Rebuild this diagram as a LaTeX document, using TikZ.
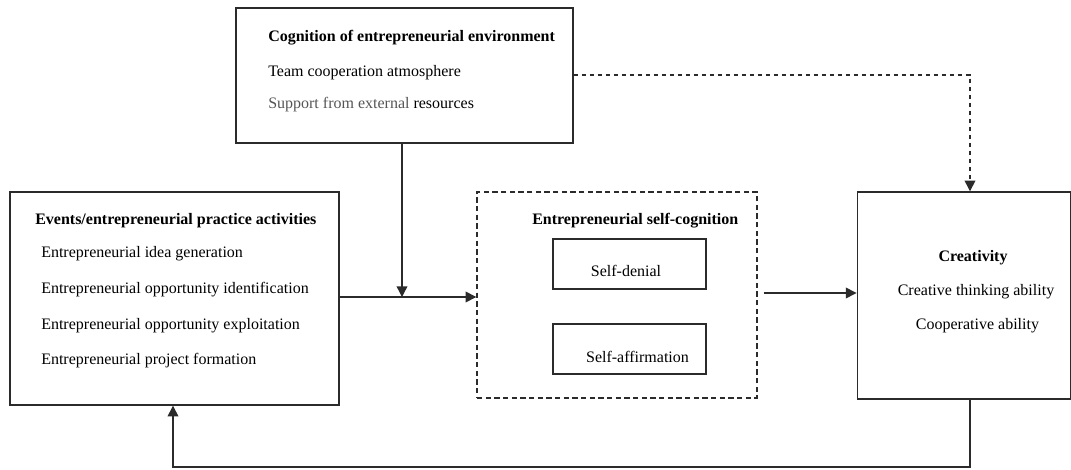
\documentclass[tikz,border=0pt]{standalone}
\usepackage{fontspec}
\setmainfont{Liberation Serif}
\usetikzlibrary{arrows.meta}
\definecolor{ink}{HTML}{2B2B2B}
\definecolor{softgray}{HTML}{555555}
\begin{document}
\begin{tikzpicture}[x=0.75pt,y=-0.75pt,
  box/.style={draw=ink,line width=1.05pt,rectangle,inner sep=0pt},
  dbox/.style={box,dash pattern=on 4pt off 2.5pt},
  lbl/.style={inner sep=0pt,font=\fontsize{12pt}{14pt}\selectfont,text=black},
  head/.style={lbl,font=\fontsize{12pt}{14pt}\selectfont\bfseries},
  arr/.style={draw=ink,line width=1.05pt,-{Triangle[length=8pt,width=8pt]}},
  darr/.style={arr,dash pattern=on 3.5pt off 2.5pt}]
\useasboundingbox (0,0) rectangle (1071,470);

% boxes
\node[box,minimum width=337*0.75pt,minimum height=135*0.75pt] (top) at (404.5,75.5) {};
\node[box,minimum width=329*0.75pt,minimum height=213*0.75pt] (left) at (174.5,298.5) {};
\node[dbox,minimum width=280*0.75pt,minimum height=206*0.75pt] (self) at (617,295) {};
\node[box,minimum width=153*0.75pt,minimum height=50*0.75pt] (denial) at (629.5,264) {};
\node[box,minimum width=153*0.75pt,minimum height=50*0.75pt] (affirm) at (629.5,349) {};
\node[box,minimum width=213*0.75pt,minimum height=207*0.75pt] (creat) at (963.75,295.5) {};

% texts of the environment box
\node[head,anchor=west] (t1) at (268,38) {Cognition of entrepreneurial environment};
\node[lbl,anchor=west] (t2) at (268,73) {Team cooperation atmosphere};
\node[lbl,anchor=west] (t3) at (268,105) {\textcolor{softgray}{Support from external} resources};

% texts of the practice box
\node[head,anchor=west] (l1) at (35,221) {Events/entrepreneurial practice activities};
\node[lbl,anchor=west] (l2) at (41,254) {Entrepreneurial idea generation};
\node[lbl,anchor=west] (l3) at (41,290) {Entrepreneurial opportunity identification};
\node[lbl,anchor=west] (l4) at (41,326) {Entrepreneurial opportunity exploitation};
\node[lbl,anchor=west] (l5) at (41,361) {Entrepreneurial project formation};

% texts of the self-cognition box
\node[head,anchor=west] (s1) at (532,221) {Entrepreneurial self-cognition};
\node[lbl] (s2) at (626,271) {Self-denial};
\node[lbl] (s3) at (637.5,357) {Self-affirmation};

% texts of the creativity box
\node[head] (c1) at (973,258) {Creativity};
\node[lbl] (c2) at (976,292) {Creative thinking ability};
\node[lbl] (c3) at (977.5,326) {Cooperative ability};

% connectors
\coordinate (j) at (402,297);
\coordinate (k) at (970,75);
\coordinate (fb) at (970,467);
\coordinate (fl) at (173,467);

\draw[arr] (left.east |- j) -- (self.west |- j);
\draw[arr] (top.south -| j) -- (j);
\draw[arr] ([xshift=4.5pt]self.east |- 0,293) -- (creat.west |- 0,293);
\draw[darr] (top.east |- k) -- (k) -- (creat.north -| k);
\draw[arr] (creat.south -| fb) -- (fb) -- (fl) -- (left.south -| fl);
\end{tikzpicture}
\end{document}
